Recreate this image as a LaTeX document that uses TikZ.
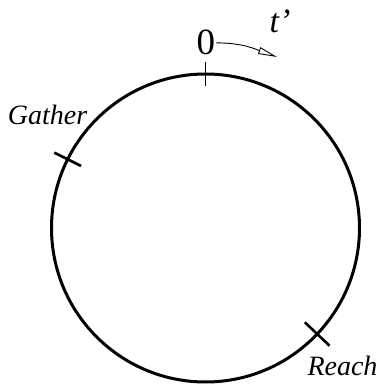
\documentclass[tikz,border=0pt]{standalone}
\usepackage{fontspec}
\setmainfont{Liberation Serif}
\usepackage{tikz}
\usetikzlibrary{arrows.meta, positioning, calc}

\begin{document}
\begin{tikzpicture}[
  x=1pt, y=1pt,
  >={Triangle[open, length=19pt, width=7pt]},
  lbl/.style={font=\fontsize{28}{28}\selectfont\itshape, inner sep=0pt, anchor=base},
  cross/.style={line width=2.6pt},
  ring/.style={line width=3pt},
]
  \useasboundingbox (0,0) rectangle (380,384);

  % --- clock circle -----------------------------------------------
  \coordinate (ctr) at (205.5,156);
  \draw[ring] (ctr) circle (154);

  % --- marks on the circle ----------------------------------------
  \draw[line width=1.3pt] ($(ctr)+(90:142)$) -- ($(ctr)+(90:166)$);
  \draw[cross] ($(ctr)+(153.5:139)$) -- ($(ctr)+(153.5:169)$);
  \draw[cross] ($(ctr)+(-43.5:137)$) -- ($(ctr)+(-43.5:171)$);

  % --- labels -----------------------------------------------------
  \node[font=\fontsize{37}{37}\selectfont, inner sep=1pt, anchor=base] (zero) at (206,329) {0};
  \node[font=\fontsize{34}{34}\selectfont\itshape, inner sep=0pt, anchor=base] (tprime) at (280,351) {t’};
  \node[lbl] (gather) at (47.5,259) {Gather};
  \node[lbl] (reach) at (342.5,9) {Reach};

  % --- direction of time ------------------------------------------
  \coordinate (tip) at (277,327);
  \draw[->, line width=0.9pt] (zero.east) .. controls +(26,0) and +(-22,8) .. (tip);
\end{tikzpicture}
\end{document}
